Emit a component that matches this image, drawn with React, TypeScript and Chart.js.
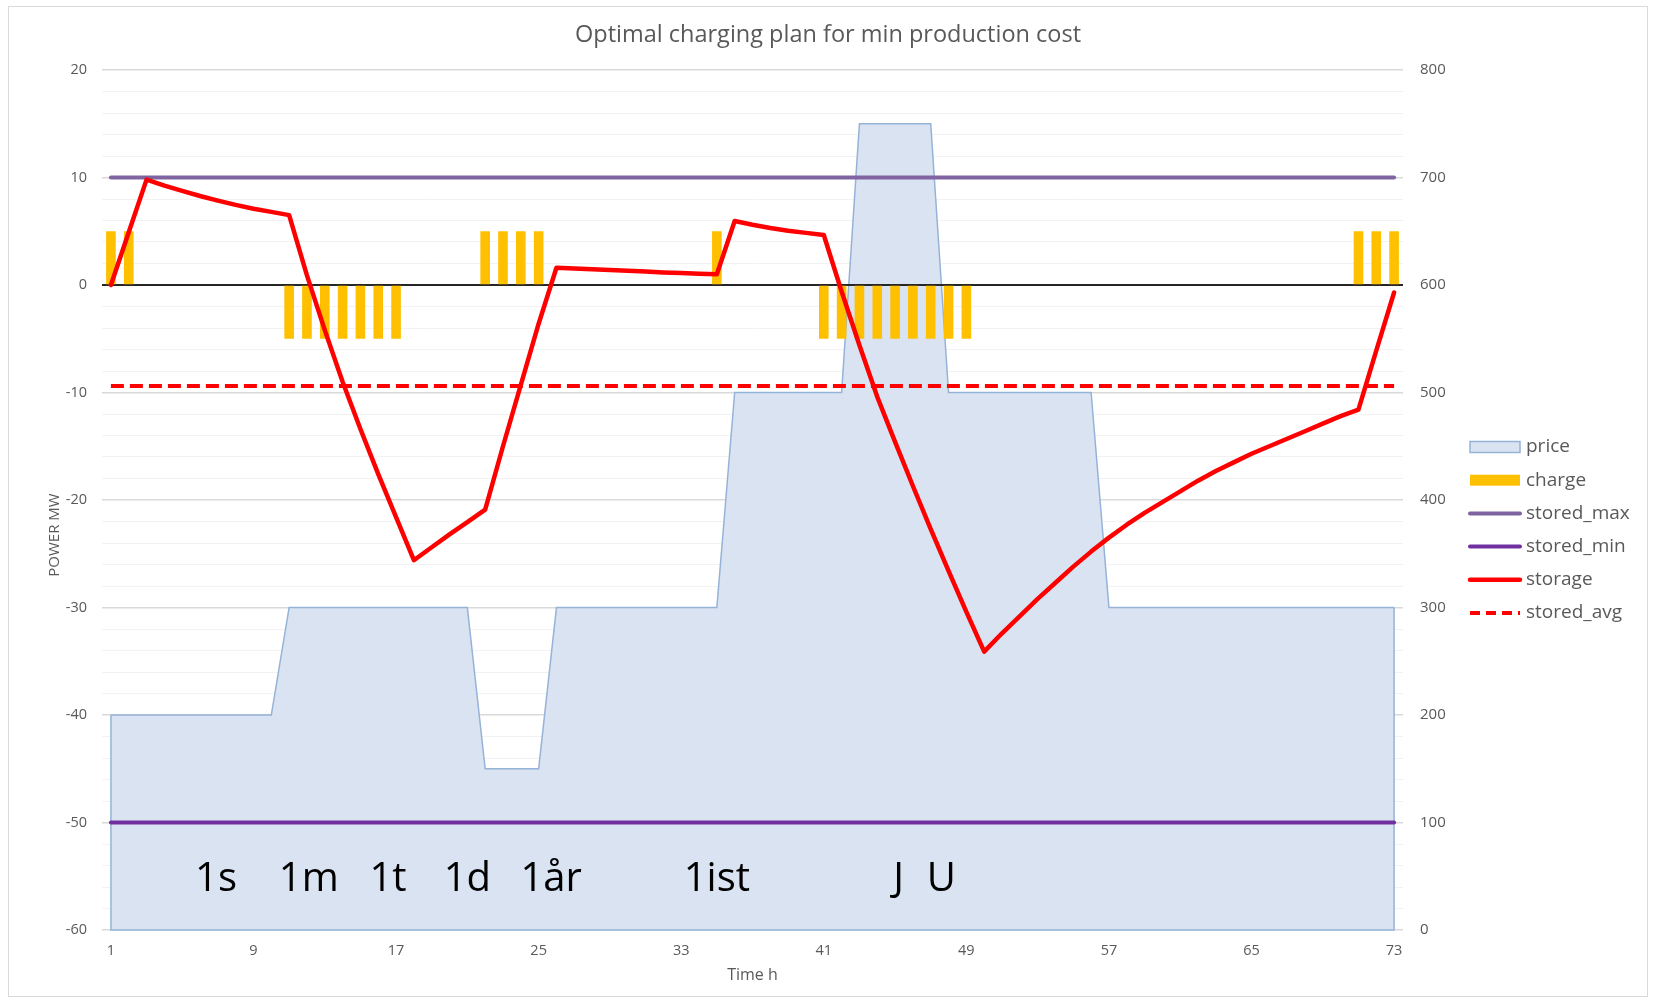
import React, { useEffect, useRef } from 'react';
import { Chart, registerables } from 'chart.js';

Chart.register(...registerables);

// ---------- data ----------
const HOURS: string[] = Array.from({ length: 73 }, (_, i) => String(i + 1));
const X_TICKS = ['1', '9', '17', '25', '33', '41', '49', '57', '65', '73'];

const PRICE = [
  200, 200, 200, 200, 200, 200, 200, 200, 200, 200,
  300, 300, 300, 300, 300, 300, 300, 300, 300, 300, 300,
  150, 150, 150, 150,
  300, 300, 300, 300, 300, 300, 300, 300, 300, 300,
  500, 500, 500, 500, 500, 500, 500,
  750, 750, 750, 750, 750,
  500, 500, 500, 500, 500, 500, 500, 500, 500,
  300, 300, 300, 300, 300, 300, 300, 300, 300, 300, 300, 300, 300, 300, 300, 300, 300,
];

const CHARGE = [
  5, 5, null, null, null, null, null, null, null, null,
  -5, -5, -5, -5, -5, -5, -5,
  null, null, null, null,
  5, 5, 5, 5,
  null, null, null, null, null, null, null, null, null,
  5,
  null, null, null, null, null,
  -5, -5, -5, -5, -5, -5, -5, -5, -5,
  null, null, null, null, null, null, null, null, null, null, null, null, null, null, null, null, null, null, null, null, null,
  5, 5, 5,
];

const STORED_MAX = [
  10, 10, 10, 10, 10, 10, 10, 10, 10, 10, 10, 10, 10, 10, 10, 10, 10, 10, 10, 10, 10, 10, 10, 10, 10,
  10, 10, 10, 10, 10, 10, 10, 10, 10, 10, 10, 10, 10, 10, 10, 10, 10, 10, 10, 10, 10, 10, 10, 10, 10,
  10, 10, 10, 10, 10, 10, 10, 10, 10, 10, 10, 10, 10, 10, 10, 10, 10, 10, 10, 10, 10, 10, 10,
];

const STORED_MIN = [
  -50, -50, -50, -50, -50, -50, -50, -50, -50, -50, -50, -50, -50, -50, -50, -50, -50, -50, -50, -50, -50, -50, -50, -50, -50,
  -50, -50, -50, -50, -50, -50, -50, -50, -50, -50, -50, -50, -50, -50, -50, -50, -50, -50, -50, -50, -50, -50, -50, -50, -50,
  -50, -50, -50, -50, -50, -50, -50, -50, -50, -50, -50, -50, -50, -50, -50, -50, -50, -50, -50, -50, -50, -50, -50,
];

const STORAGE = [
  0, 4.9, 9.8, 9.25, 8.75, 8.28, 7.85, 7.45, 7.1, 6.8,
  6.5, 0.9, -4.2, -9.0, -13.4, -17.6, -21.6, -25.6, -24.4, -23.2,
  -22.05, -20.9, -15.0, -9.3, -3.6, 1.6, 1.53, 1.46, 1.39, 1.32,
  1.25, 1.17, 1.11, 1.05, 1.0, 5.95, 5.6, 5.3, 5.05, 4.85,
  4.65, -0.6, -5.6, -10.4, -14.6, -18.7, -22.7, -26.6, -30.4, -34.1,
  -32.4, -30.8, -29.2, -27.7, -26.2, -24.8, -23.5, -22.3, -21.2, -20.2,
  -19.2, -18.2, -17.3, -16.5, -15.7, -15.0, -14.3, -13.6, -12.9, -12.2,
  -11.6, -6.1, -0.7,
];

const STORED_AVG = [
  -9.4, -9.4, -9.4, -9.4, -9.4, -9.4, -9.4, -9.4, -9.4, -9.4, -9.4, -9.4, -9.4, -9.4, -9.4, -9.4, -9.4, -9.4, -9.4, -9.4, -9.4, -9.4, -9.4, -9.4, -9.4,
  -9.4, -9.4, -9.4, -9.4, -9.4, -9.4, -9.4, -9.4, -9.4, -9.4, -9.4, -9.4, -9.4, -9.4, -9.4, -9.4, -9.4, -9.4, -9.4, -9.4, -9.4, -9.4, -9.4, -9.4, -9.4,
  -9.4, -9.4, -9.4, -9.4, -9.4, -9.4, -9.4, -9.4, -9.4, -9.4, -9.4, -9.4, -9.4, -9.4, -9.4, -9.4, -9.4, -9.4, -9.4, -9.4, -9.4, -9.4, -9.4,
];

// in-plot text labels: text, hour position, value on left axis
const NOTE_TEXTS = ['1s', '1m', '1t', '1d', '1år', '1ist', 'J', 'U'];
const NOTE_HOURS = [6.9, 12.1, 16.55, 21.0, 25.7, 35.0, 45.2, 47.6];
const NOTE_LEVEL = -55.3;

const TITLE = 'Optimal charging plan for min production cost';
const Y_TITLE = 'POWER MW';
const X_TITLE = 'Time h';

// ---------- styles ----------
const TEXT_GREY = '#595959';
const FONT = "'Open Sans', 'DejaVu Sans', sans-serif";
const PRICE_FILL = '#dae3f1';
const PRICE_BORDER = '#95b3d7';
const CHARGE_COLOR = '#ffc000';
const MAX_COLOR = '#8064a2';
const MIN_COLOR = '#7030a0';
const RED = '#ff0000';

const W = 1638;
const H = 989;

const decorPlugin = {
  id: 'decor',
  afterDatasetDraw(chart: any, args: any) {
    if (args.index !== 0) return;
    const { ctx, chartArea, scales } = chart;
    const pts = chart.getDatasetMeta(0).data;
    const first = pts[0];
    const last = pts[pts.length - 1];
    const yb = scales.y1.getPixelForValue(0);
    ctx.save();
    ctx.strokeStyle = PRICE_BORDER;
    ctx.lineWidth = 1.5;
    ctx.beginPath();
    ctx.moveTo(first.x, first.y);
    ctx.lineTo(first.x, yb);
    ctx.lineTo(last.x, yb);
    ctx.lineTo(last.x, last.y);
    ctx.stroke();
    const y0 = scales.y.getPixelForValue(0);
    ctx.strokeStyle = '#262626';
    ctx.lineWidth = 2;
    ctx.beginPath();
    ctx.moveTo(chartArea.left, y0);
    ctx.lineTo(chartArea.right, y0);
    ctx.stroke();
    ctx.restore();
  },
  afterDraw(chart: any) {
    const { ctx, chartArea, scales } = chart;
    ctx.save();
    // title
    ctx.fillStyle = TEXT_GREY;
    ctx.font = `23.5px ${FONT}`;
    ctx.textAlign = 'center';
    ctx.textBaseline = 'middle';
    ctx.fillText(TITLE, W / 2, 28);

    // x title
    ctx.font = `16px ${FONT}`;
    ctx.fillText(X_TITLE, (chartArea.left + chartArea.right) / 2, 968);

    // y title
    ctx.save();
    ctx.translate(45.5, 528);
    ctx.rotate(-Math.PI / 2);
    ctx.font = `15px ${FONT}`;
    ctx.fillText(Y_TITLE, 0, 0);
    ctx.restore();

    // notes
    ctx.fillStyle = '#000000';
    ctx.font = `40px ${FONT}`;
    const yN = scales.y.getPixelForValue(NOTE_LEVEL);
    NOTE_TEXTS.forEach((t, i) => {
      const x = scales.x.getPixelForValue(NOTE_HOURS[i] - 1);
      ctx.fillText(t, x, yN);
    });

    // legend
    const lx0 = 1461;
    const lx1 = 1511;
    const tx = 1517;
    const rowY0 = 440;
    const rowStep = 33.2;
    ctx.font = `19px ${FONT}`;
    ctx.textAlign = 'left';
    ctx.textBaseline = 'middle';
    chart.data.datasets.forEach((ds: any, i: number) => {
      const y = rowY0 + i * rowStep;
      if (ds.legendKind === 'area') {
        ctx.fillStyle = ds.backgroundColor;
        ctx.fillRect(lx0, y - 5.5, lx1 - lx0, 11);
        ctx.strokeStyle = ds.borderColor;
        ctx.lineWidth = 1.5;
        ctx.strokeRect(lx0, y - 5.5, lx1 - lx0, 11);
      } else if (ds.legendKind === 'bar') {
        ctx.fillStyle = ds.backgroundColor;
        ctx.fillRect(lx0, y - 5.5, lx1 - lx0, 11);
      } else {
        ctx.strokeStyle = ds.borderColor;
        ctx.lineWidth = ds.borderWidth;
        ctx.lineCap = ds.borderDash ? 'butt' : 'round';
        ctx.setLineDash(ds.borderDash ? [10, 6] : []);
        ctx.beginPath();
        ctx.moveTo(lx0, y);
        ctx.lineTo(lx1, y);
        ctx.stroke();
        ctx.setLineDash([]);
      }
      ctx.fillStyle = TEXT_GREY;
      ctx.fillText(ds.label, tx, y);
    });
    ctx.restore();
  },
};

export default function App() {
  const ref = useRef<HTMLCanvasElement | null>(null);

  useEffect(() => {
    if (!ref.current) return;
    const lineCommon = {
      type: 'line' as const,
      pointRadius: 0,
      pointHoverRadius: 0,
      tension: 0,
      fill: false,
      borderCapStyle: 'round' as const,
      borderJoinStyle: 'round' as const,
      yAxisID: 'y',
      legendKind: 'line',
    };
    const chart = new Chart(ref.current, {
      type: 'bar',
      data: {
        labels: HOURS,
        datasets: [
          {
            type: 'line',
            label: 'price',
            data: PRICE,
            yAxisID: 'y1',
            backgroundColor: PRICE_FILL,
            borderColor: PRICE_BORDER,
            borderWidth: 1.5,
            fill: 'origin',
            pointRadius: 0,
            tension: 0,
            order: 10,
            legendKind: 'area',
          } as any,
          {
            type: 'bar',
            label: 'charge',
            data: CHARGE,
            yAxisID: 'y',
            backgroundColor: CHARGE_COLOR,
            borderWidth: 0,
            barPercentage: 0.54,
            categoryPercentage: 1,
            order: 8,
            legendKind: 'bar',
          } as any,
          { ...lineCommon, label: 'stored_max', data: STORED_MAX, borderColor: MAX_COLOR, borderWidth: 4, order: 6 } as any,
          { ...lineCommon, label: 'stored_min', data: STORED_MIN, borderColor: MIN_COLOR, borderWidth: 4, order: 5 } as any,
          { ...lineCommon, label: 'storage', data: STORAGE, borderColor: RED, borderWidth: 4.5, order: 1 } as any,
          {
            ...lineCommon,
            label: 'stored_avg',
            data: STORED_AVG,
            borderColor: RED,
            borderWidth: 4,
            borderDash: [13, 6],
            borderCapStyle: 'butt',
            order: 2,
          } as any,
        ],
      },
      options: {
        responsive: false,
        animation: false,
        devicePixelRatio: 1,
        layout: { padding: { top: 63, left: 0, right: 0, bottom: 0 } },
        plugins: {
          legend: { display: false },
          title: { display: false },
          tooltip: { enabled: false },
        },
        scales: {
          x: {
            offset: true,
            grid: { display: false },
            border: { display: false },
            ticks: {
              autoSkip: false,
              maxRotation: 0,
              minRotation: 0,
              padding: 4,
              color: TEXT_GREY,
              font: { family: FONT, size: 14.5 },
              callback: (_v: any, idx: number) => (X_TICKS.includes(HOURS[idx]) ? HOURS[idx] : ''),
            },
            afterFit: (s: any) => {
              s.height = 66;
            },
          },
          y: {
            position: 'left',
            min: -60,
            max: 20,
            border: { display: false },
            grid: {
              drawTicks: false,
              color: (c: any) =>
                c.tick.value === 0 ? 'rgba(0,0,0,0)' : c.tick.value % 10 === 0 ? '#d9d9d9' : '#f2f2f2',
              lineWidth: (c: any) => (c.tick.value % 10 === 0 ? 1.5 : 1),
            },
            ticks: {
              stepSize: 2,
              autoSkip: false,
              padding: 15,
              color: TEXT_GREY,
              font: { family: FONT, size: 14.5 },
              callback: (v: any) => (Number(v) % 10 === 0 ? String(v) : ''),
            },
            afterFit: (s: any) => {
              s.width = 93;
            },
          },
          y1: {
            position: 'right',
            min: 0,
            max: 800,
            border: { display: false },
            grid: { drawOnChartArea: false, drawTicks: false },
            ticks: {
              stepSize: 100,
              padding: 17,
              color: TEXT_GREY,
              font: { family: FONT, size: 15 },
            },
            afterFit: (s: any) => {
              s.width = 244;
            },
          },
        },
      } as any,
      plugins: [decorPlugin],
    });
    return () => chart.destroy();
  }, []);

  return (
    <div
      style={{
        position: 'fixed',
        left: 8,
        top: 6,
        width: W + 2,
        height: H + 2,
        boxSizing: 'border-box',
        border: '1px solid #d9d9d9',
        background: '#ffffff',
      }}
    >
      <canvas ref={ref} width={W} height={H} style={{ display: 'block', width: W, height: H }} />
    </div>
  );
}
